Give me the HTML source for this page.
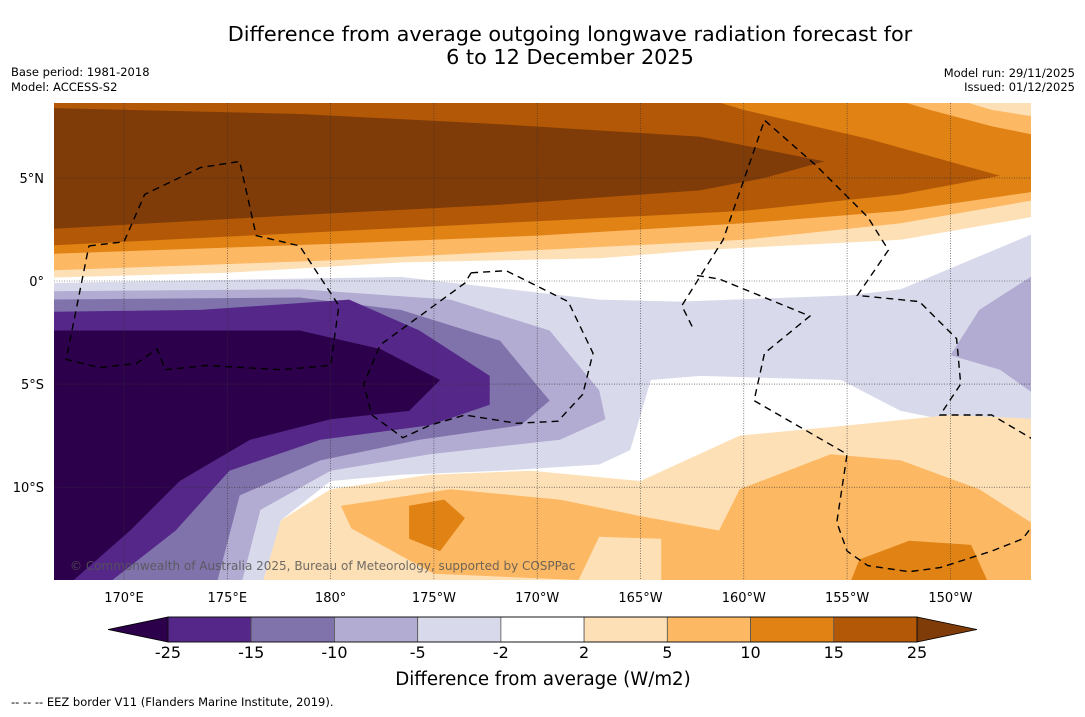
<!DOCTYPE html>
<html><head><meta charset="utf-8"><style>
body{margin:0;background:#fff;font-family:"DejaVu Sans","Liberation Sans",sans-serif;}
svg text{font-family:"DejaVu Sans","Liberation Sans",sans-serif;}
</style></head><body>
<svg id="c" width="1085" height="713" xmlns="http://www.w3.org/2000/svg">
<rect width="1085" height="713" fill="#fff"/>
<text x="570" y="41" font-size="20.8" text-anchor="middle">Difference from average outgoing longwave radiation forecast for</text>
<text x="570" y="64" font-size="20.8" text-anchor="middle">6 to 12 December 2025</text>
<text x="11" y="76" font-size="11.5">Base period: 1981-2018</text>
<text x="11" y="91" font-size="11.5">Model: ACCESS-S2</text>
<text x="1075" y="77" font-size="11.5" text-anchor="end">Model run: 29/11/2025</text>
<text x="1075" y="91" font-size="11.5" text-anchor="end">Issued: 01/12/2025</text>
<defs><clipPath id="clip"><rect x="54" y="103" width="977" height="477"/></clipPath></defs>
<g id="map" clip-path="url(#clip)"></g>
<g id="over"></g>
</svg>
<script>
const lonTicks=[170,175,180,185,190,195,200,205,210];
const lonLabels=["170°E","175°E","180°","175°W","170°W","165°W","160°W","155°W","150°W"];
const latTicks=[5,0,-5,-10];
const latLabels=["5°N","0°","5°S","10°S"];
const levels=[-25,-15,-10,-5,-2,2,5,10,15,25];
const colors=["#2d004b","#542788","#8073ac","#b2abd2","#d8daeb","#ffffff","#fee0b6","#fdb863","#e08214","#b35806","#7f3b08"];
// north band boundaries (region above line)
const north2=[[166,0.15],[175,0.4],[183.4,0.9],[193,1.1],[197.9,1.5],[207.6,2.0],[214.5,3.2]];
const north5=[[166,0.5],[180,1.0],[190,1.5],[200,2.0],[207.6,2.8],[214.5,4.0]];
const north10=[[166,1.3],[180,1.8],[190,2.2],[200,2.8],[207.6,3.4],[214.5,4.4]];
const north15=[[166,1.7],[180,2.4],[190,2.9],[200,3.4],[207.6,4.2],[212.4,5.1],[206,6.9],[200,8.3],[197,9.2]];
const north25=[[166,8.4],[178.5,8.1],[188.2,7.6],[197.9,7.0],[203.9,5.8],[201,5.0],[197.9,4.4],[188.2,3.7],[178.5,3.2],[166,2.5]];
const topRight5=[[206,9.2],[209,8.3],[212,7.5],[214.5,7.0],[214.5,9.2]];
const topRight2=[[209,9.2],[212,8.3],[214.5,7.9],[214.5,9.2]];
// south orange
const south2=[[176.6,-15],[177.6,-11.6],[180,-10.1],[184.8,-9.4],[189.7,-9.2],[195,-9.7],[199.8,-7.5],[205.1,-7.0],[210,-6.5],[214.5,-6.7],[214.5,-15]];
const south5=[[180.5,-10.9],[185.8,-10.1],[191.1,-10.6],[195,-11.4],[198.8,-12.1],[199.8,-10.1],[204.2,-8.4],[207.6,-8.7],[211.4,-10.1],[214.5,-12.1],[214.5,-15],[196,-15],[196,-12.5],[193,-12.4],[192,-14.5],[185,-14.2],[181,-12]];
const south10a=[[183.8,-10.9],[185.5,-10.6],[186.5,-11.5],[185.3,-13.1],[183.8,-12.5]];
const south10b=[[205.6,-13.5],[208,-12.6],[211,-12.8],[212,-15],[205,-15]];
// purple
const neg2=[[166,-0.1],[183.4,0.2],[193,-0.9],[196.9,-1.0],[205.1,-0.7],[207.6,-0.4],[214.5,2.5],[214.5,-7.7],[207.6,-6.3],[204.7,-4.8],[197.9,-4.6],[195.5,-4.8],[194.5,-8.2],[193,-8.9],[188.2,-9.2],[183.4,-9.4],[180,-9.7],[177.6,-11.6],[177.1,-15],[166,-15]];
const neg5=[[166,-0.5],[178.5,-0.4],[185.8,-0.9],[190.6,-2.4],[193,-5.3],[193.3,-6.7],[191.1,-7.7],[184.8,-8.4],[180,-9.2],[176.6,-11.1],[175.6,-15],[166,-15]];
const neg5b=[[214.5,0.6],[211.4,-1.4],[210,-3.6],[212.4,-4.3],[214.5,-5.8]];
const neg10=[[166,-0.9],[178.5,-0.8],[183.4,-1.4],[188.2,-2.9],[190.6,-5.8],[189.2,-7.0],[184.3,-7.7],[179.5,-8.7],[175.6,-10.4],[174.4,-15],[166,-15]];
const neg15=[[166,-1.5],[173.7,-1.4],[180.9,-0.9],[184.3,-2.4],[187.7,-4.6],[187.7,-6.0],[184.8,-7.0],[179.5,-7.7],[175.1,-9.2],[172.5,-12.1],[168.8,-15],[166,-15]];
const neg25=[[166,-2.4],[178.5,-2.4],[182.4,-3.3],[185.3,-4.8],[183.8,-6.3],[180,-6.7],[176.1,-7.7],[172.7,-9.7],[170.3,-12.1],[167,-15],[166,-15]];
const eezA=[[168.3,1.7],[170,1.9],[171,4.2],[173.7,5.5],[175.6,5.8],[176.4,2.2],[178.5,1.7],[180.4,-1.2],[180,-4.1],[177.6,-4.3],[174,-4.1],[172,-4.3],[171.6,-3.3],[170.6,-4.0],[168.8,-4.2],[167.2,-3.8],[168.3,1.7]];
const eezB=[[186.8,0.4],[188.5,0.5],[191.5,-1.0],[192.7,-3.5],[192.2,-5.5],[191,-6.8],[189,-6.9],[186.5,-6.5],[184.8,-7.0],[183.5,-7.6],[182,-6.5],[181.6,-5],[182.4,-3.1],[186.5,-0.1],[186.8,0.4]];
const eezC=[[197.5,-2.2],[197,-1.2],[199,2.0],[201,7.8],[203.5,5.6],[206,3.1],[207,1.5],[205.5,-0.7],[208.5,-1.0],[210.3,-2.8],[210.5,-5.0],[209.5,-6.5],[212,-6.5],[214.2,-7.8],[215,-10.5],[213.5,-12.5],[212,-13.1],[209.5,-13.9],[208,-14.1],[206,-13.8],[205,-13.1],[204.5,-11.7],[205,-8.4],[200.5,-5.8],[201,-3.5],[203.2,-1.7],[201,-0.8],[198.8,0.1],[197.5,0.3]];

const X=lon=>124+(lon-170)*20.66;
const Y=lat=>281-lat*20.62;
const NS="http://www.w3.org/2000/svg";
const map=document.getElementById('map'), svg=document.getElementById('c');
function mk(tag,attrs,parent){const e=document.createElementNS(NS,tag);for(const k in attrs)e.setAttribute(k,attrs[k]);parent.appendChild(e);return e;}
function pts(a){return a.map(p=>X(p[0]).toFixed(1)+','+Y(p[1]).toFixed(1)).join(' ');}
function above(line){return pts(line)+' '+X(216)+','+Y(10)+' '+X(165)+','+Y(10);}
function poly(p,col,name){const e=mk('polygon',{points:p,fill:col},map);

}
poly(pts([[165,10],[216,10],[216,-16],[165,-16]]),colors[5],'background-near-zero');
poly(pts(neg2),colors[4],'region-below-minus-2');
poly(pts(neg5),colors[3],'region-below-minus-5');
poly(pts(neg5b),colors[3],'region-below-minus-5-east');
poly(pts(neg10),colors[2],'region-below-minus-10');
poly(pts(neg15),colors[1],'region-below-minus-15');
poly(pts(neg25),colors[0],'region-below-minus-25');
poly(pts(south2),colors[6],'region-above-2-south');
poly(pts(south5),colors[7],'region-above-5-south');
poly(pts(south10a),colors[8],'region-above-10-south-a');
poly(pts(south10b),colors[8],'region-above-10-south-b');
poly(above(north2),colors[6],'region-above-2-north');
poly(above(north5),colors[7],'region-above-5-north');
poly(above(north10),colors[8],'region-above-10-north');
poly(pts(north15)+' '+X(165)+','+Y(10),colors[9],'region-above-15-north');
poly(pts(north25),colors[10],'region-above-25-north');
poly(pts(topRight5),colors[7],'region-top-right-5');
poly(pts(topRight2),colors[6],'region-top-right-2');
[eezA,eezB,eezC].forEach((b,i)=>{const e=mk('polyline',{points:pts(b),fill:'none',stroke:'#000','stroke-width':1.4,'stroke-dasharray':'7,5'},map);

});
lonTicks.forEach((l,i)=>{const g=mk('line',{x1:X(l),x2:X(l),y1:103,y2:580,stroke:'#333','stroke-width':0.6,'stroke-dasharray':'1,1.5'},map);


const t=mk('text',{x:X(l),y:602,'font-size':13,'text-anchor':'middle'},svg);t.textContent=lonLabels[i];

});
latTicks.forEach((l,i)=>{const g=mk('line',{x1:54,x2:1031,y1:Y(l),y2:Y(l),stroke:'#333','stroke-width':0.6,'stroke-dasharray':'1,1.5'},map);


const t=mk('text',{x:44,y:Y(l)+5,'font-size':13,'text-anchor':'end'},svg);t.textContent=latLabels[i];

});
const cp=mk('text',{x:70,y:570,'font-size':12,fill:'#555','fill-opacity':0.85},svg);cp.textContent='© Commonwealth of Australia 2025, Bureau of Meteorology, supported by COSPPac';


// colorbar
const cbL=168,cbR=917,cbT=617,cbB=642,bw=(cbR-cbL)/(levels.length-1);
const lt=mk('polygon',{points:`${cbL},${cbT} ${cbL},${cbB} 108,${(cbT+cbB)/2}`,fill:colors[0],stroke:'#000','stroke-width':0.8},svg);


const rt=mk('polygon',{points:`${cbR},${cbT} ${cbR},${cbB} 977,${(cbT+cbB)/2}`,fill:colors[10],stroke:'#000','stroke-width':0.8},svg);


for(let i=0;i<levels.length-1;i++){const r=mk('rect',{x:cbL+i*bw,y:cbT,width:bw,height:cbB-cbT,fill:colors[i+1],stroke:'#555','stroke-width':0.8},svg);

}
mk('rect',{x:cbL,y:cbT,width:cbR-cbL,height:cbB-cbT,fill:'none',stroke:'#000','stroke-width':0.8},svg);
levels.forEach((v,i)=>{const t=mk('text',{x:cbL+i*bw,y:658,'font-size':16,'text-anchor':'middle'},svg);t.textContent=v;

});
const cl=mk('text',{x:543,y:685,'font-size':18.2,'text-anchor':'middle'},svg);cl.textContent='Difference from average (W/m2)';


const fn=mk('text',{x:11,y:706,'font-size':11.5},svg);fn.textContent='--  --  -- EEZ border V11 (Flanders Marine Institute, 2019).';


</script>
</body></html>
